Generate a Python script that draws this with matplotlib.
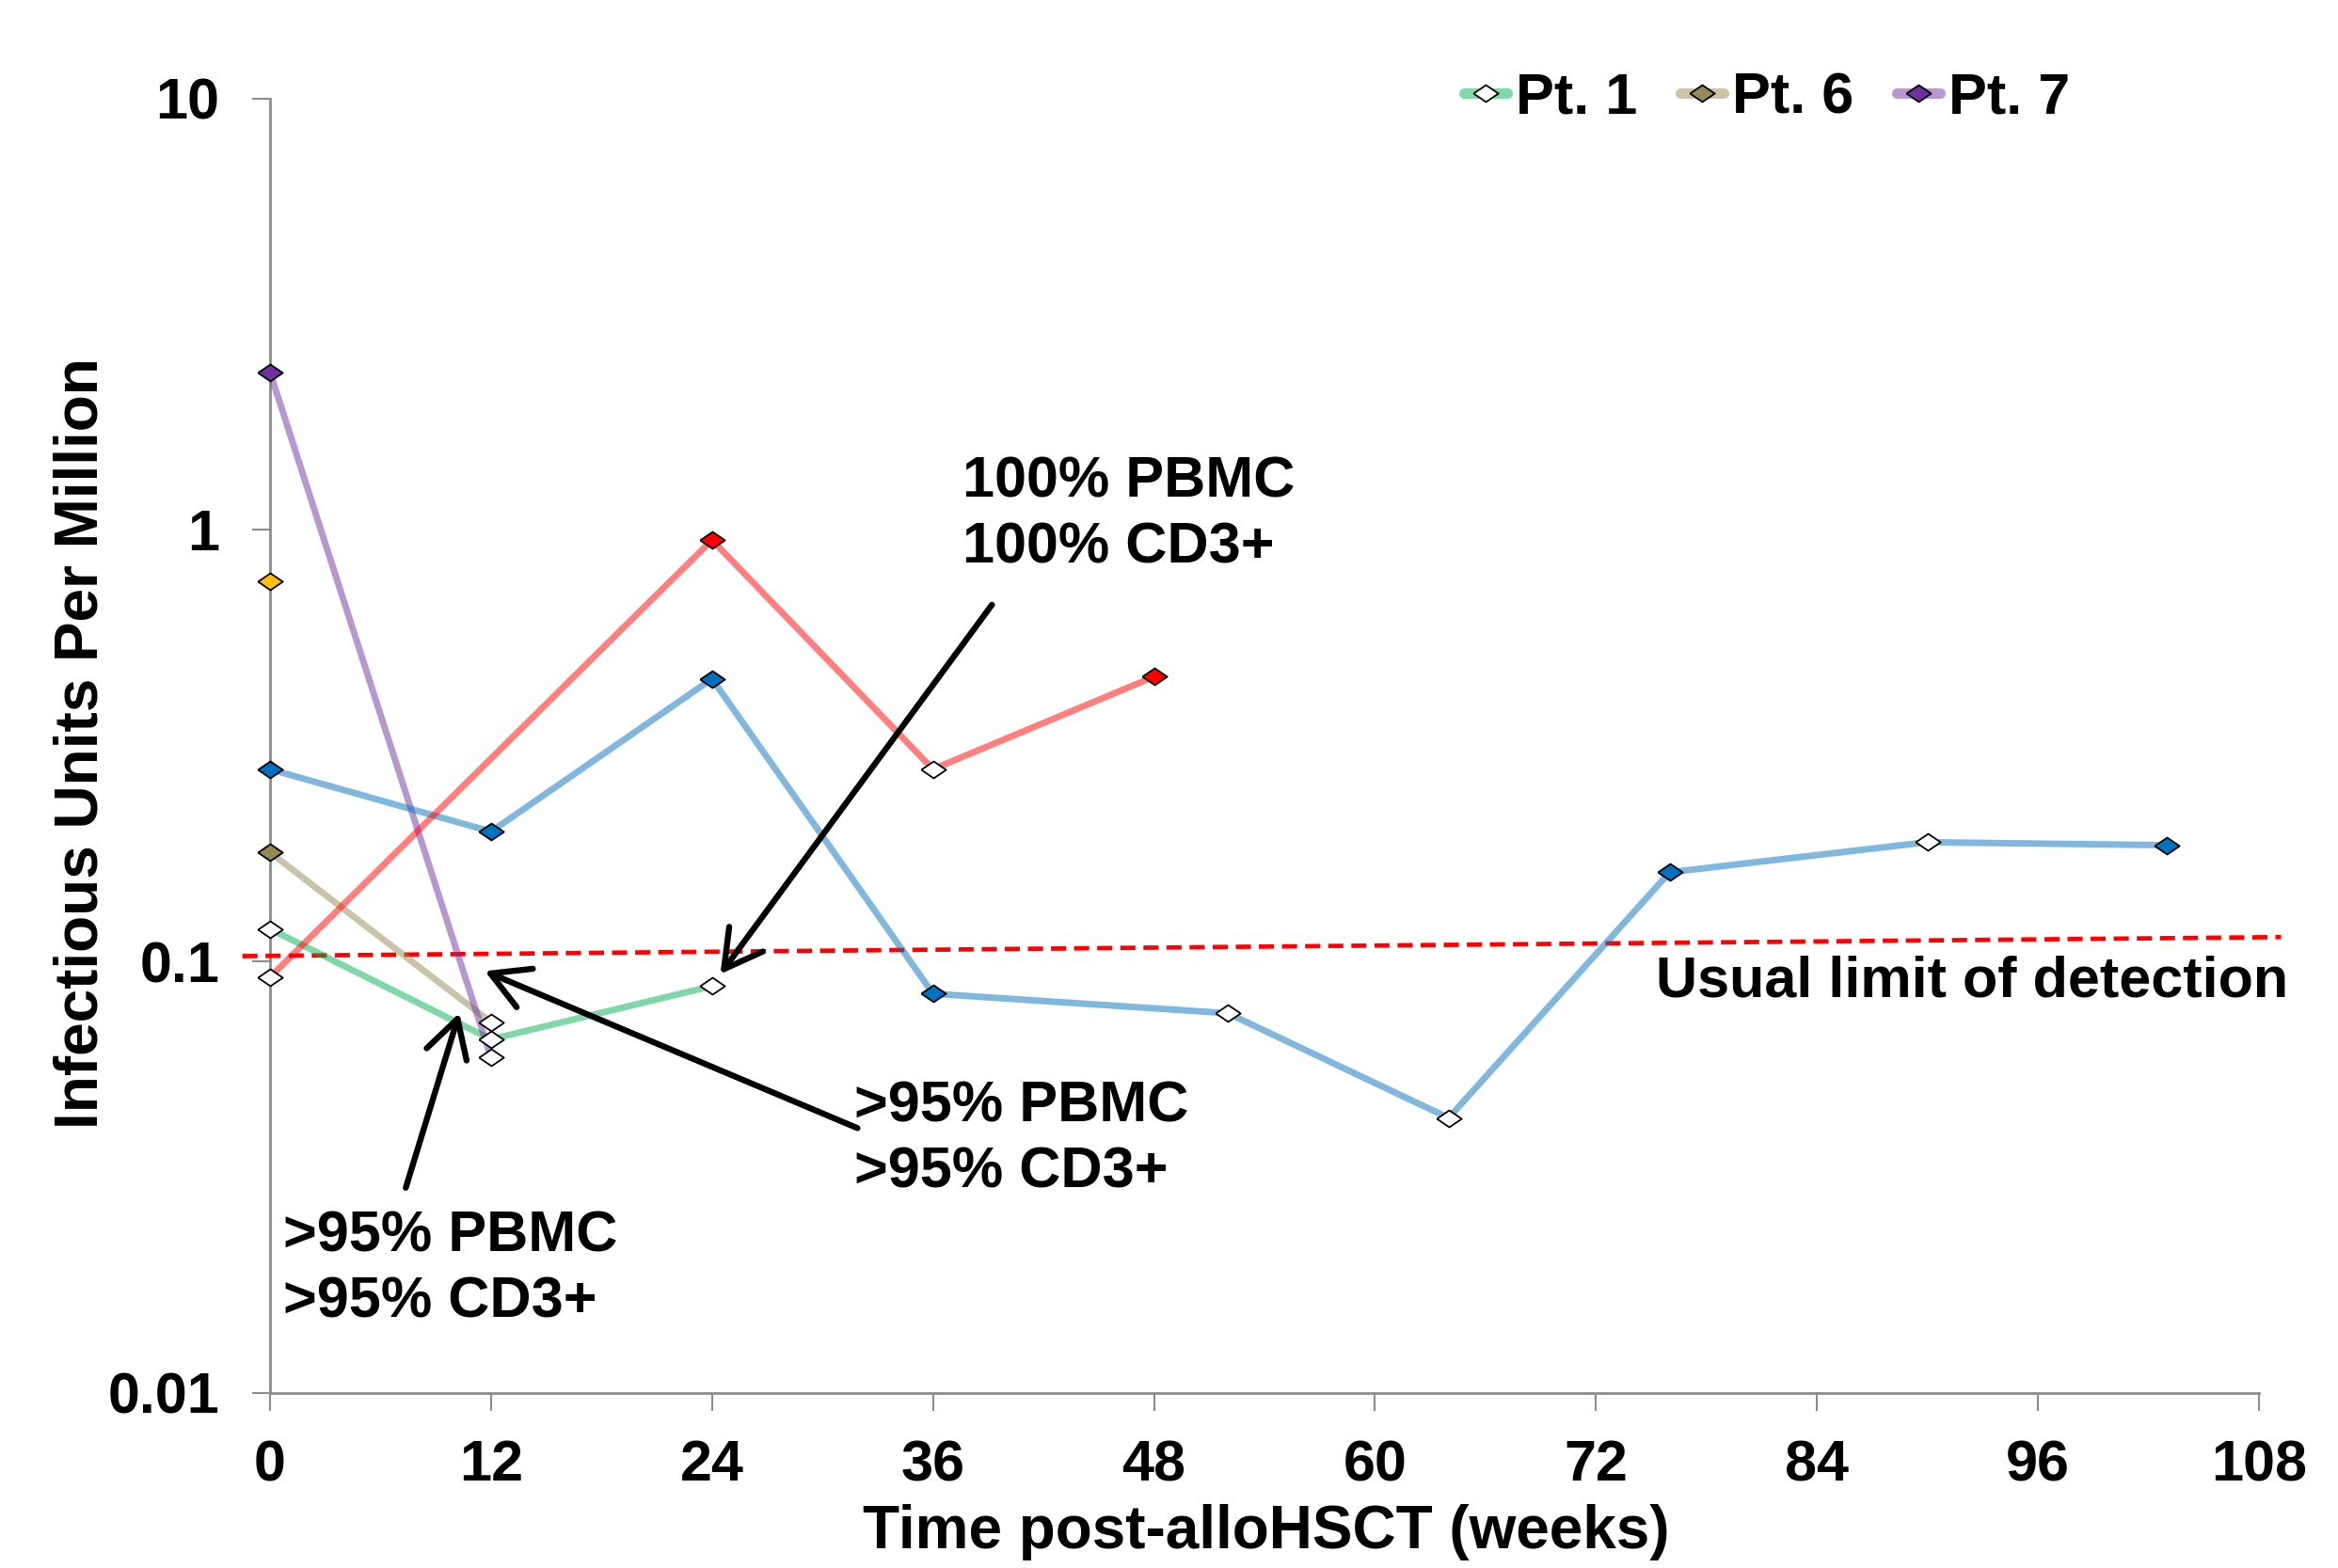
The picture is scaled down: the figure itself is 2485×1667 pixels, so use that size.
import matplotlib
matplotlib.use("Agg")
import matplotlib.pyplot as plt
from matplotlib.lines import Line2D

plt.rcParams['font.family'] = ['Liberation Sans', 'DejaVu Sans']
plt.rcParams['font.weight'] = 'bold'

# ---------------- data ----------------
pt1_x = [0, 12, 24]
pt1_y = [0.119, 0.066, 0.0877]
pt1_filled = [False, False, False]

pt6_x = [0, 12]
pt6_y = [0.179, 0.0723]
pt6_filled = [True, False]

pt7_x = [0, 12]
pt7_y = [2.32, 0.060]
pt7_filled = [True, False]

gold_x = [0]
gold_y = [0.76]
gold_filled = [True]

blue_x = [0, 12, 24, 36, 52, 64, 76, 90, 103]
blue_y = [0.279, 0.200, 0.452, 0.0842, 0.0759, 0.0434, 0.161, 0.189, 0.186]
blue_filled = [True, True, True, True, False, False, True, False, True]

red_x = [0, 24, 36, 48]
red_y = [0.092, 0.948, 0.279, 0.457]
red_filled = [False, True, False, True]

lod_x = [-1.5, 109.2]
lod_y = [0.1029, 0.1139]

x_ticks = [0, 12, 24, 36, 48, 60, 72, 84, 96, 108]
y_ticks = [0.01, 0.1, 1, 10]
y_ticklabels = ['0.01', '0.1', '1', '10']

legend_labels = ['Pt. 1', 'Pt. 6', 'Pt. 7']

# annotations: (text, text_xy, arrow_tail, arrow_head)
ann_texts = ['100% PBMC\n100% CD3+', '>95% PBMC\n>95% CD3+', '>95% PBMC\n>95% CD3+']
ann_text_xy = [(37.6, 1.08), (31.7, 0.0385), (0.73, 0.0193)]
ann_tail = [(39.2, 0.671), (31.9, 0.0411), (7.37, 0.0299)]
ann_head = [(24.45, 0.0935), (11.66, 0.095), (10.28, 0.076)]

# ---------------- style ----------------
series = [
    (pt1_x, pt1_y, pt1_filled, '#00b050'),
    (pt6_x, pt6_y, pt6_filled, '#948a54'),
    (pt7_x, pt7_y, pt7_filled, '#7030a0'),
    (gold_x, gold_y, gold_filled, '#ffc000'),
    (blue_x, blue_y, blue_filled, '#0070c0'),
    (red_x, red_y, red_filled, '#ff0000'),
]
diamond = [(-1, 0), (0, 0.68), (1, 0), (0, -0.68), (-1, 0)]
MS = 19

fig = plt.figure(figsize=(24.85, 16.67), dpi=100)
ax = fig.add_axes([0.1155, 0.1116, 0.8507, 0.8256])
ax.set_yscale('log')
ax.set_xlim(0, 108)
ax.set_ylim(0.01, 10)

# limit of detection line
ax.plot(lod_x, lod_y, color='#ff0000', lw=3.4, dashes=(3.4, 1.8), clip_on=False, zorder=2)

for xs, ys, filled, col in series:
    if len(xs) > 1:
        ax.plot(xs, ys, color=col, alpha=0.5, lw=5, solid_capstyle='round', zorder=3, clip_on=False)
    for x, y, f in zip(xs, ys, filled):
        ax.plot([x], [y], linestyle='none', marker=diamond, markersize=MS,
                markerfacecolor=(col if f else '#ffffff'), markeredgecolor='black',
                markeredgewidth=1.3, zorder=5, clip_on=False)

# annotations
for t, txy, tail, head in zip(ann_texts, ann_text_xy, ann_tail, ann_head):
    ax.text(txy[0], txy[1], t, fontsize=44, fontweight='bold', ha='left', va='center',
            linespacing=1.3, zorder=6)
    ax.annotate('', xy=head, xytext=tail,
                arrowprops=dict(arrowstyle='->,head_length=0.75,head_width=0.42',
                                color='black', lw=4.6, mutation_scale=38,
                                shrinkA=0, shrinkB=0), zorder=6)

ax.text(109.6, 0.0898, 'Usual limit of detection', fontsize=44, fontweight='bold',
        ha='right', va='center', zorder=6)

# axes styling
for s in ['top', 'right']:
    ax.spines[s].set_visible(False)
for s in ['left', 'bottom']:
    ax.spines[s].set_color('#8c8c8c')
    ax.spines[s].set_linewidth(2)
    ax.spines[s].set_zorder(1)

ax.set_xticks(x_ticks)
ax.set_xticklabels([str(v) for v in x_ticks])
ax.set_yticks(y_ticks)
ax.set_yticklabels(y_ticklabels)
ax.minorticks_off()
ax.tick_params(axis='both', which='major', direction='out', length=13.5, width=1.5,
               color='#8c8c8c', labelsize=44)
ax.tick_params(axis='x', pad=22)
ax.tick_params(axis='y', pad=25)
for lab in ax.get_xticklabels() + ax.get_yticklabels():
    lab.set_fontweight('bold')

fig.text(0.5416, 0.0228, 'Time post-alloHSCT (weeks)', fontsize=46, fontweight='bold',
         ha='center', va='center')
fig.text(0.035, 0.526, 'Infectious Units Per Million', fontsize=46, fontweight='bold',
         ha='center', va='center', rotation=90)

# legend
leg_colors = ['#80d8a8', '#cac5aa', '#b898d0']
leg_face = ['#ffffff', '#948a54', '#7030a0']
handles = [Line2D([0], [0], color=c, lw=8, solid_capstyle='round', marker=diamond,
                  markersize=MS, markerfacecolor=f, markeredgecolor='black',
                  markeredgewidth=1.3)
           for c, f in zip(leg_colors, leg_face)]
fig.legend(handles, legend_labels, loc='center', bbox_to_anchor=(0.7558, 0.937),
           ncol=3, frameon=False, handlelength=0.75, handletextpad=0.15,
           columnspacing=0.75, prop={'weight': 'bold', 'size': 44})

fig.savefig('out.png', dpi=100)
